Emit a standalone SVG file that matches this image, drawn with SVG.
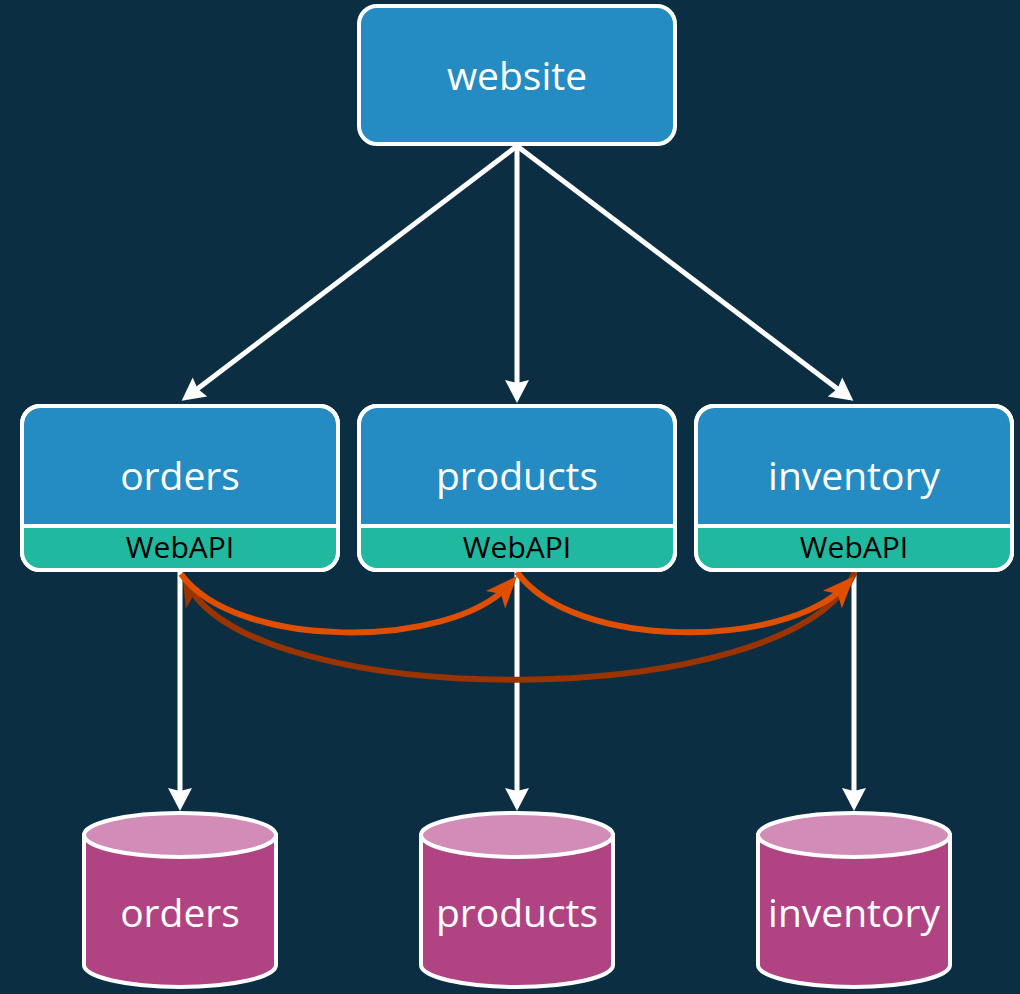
<svg xmlns="http://www.w3.org/2000/svg" width="1020" height="994" viewBox="0 0 1020 994">
<defs>
<style>
.box{fill:#258cc3;stroke:#fff;stroke-width:4}
.outline{fill:none;stroke:#fff;stroke-width:4}
.api{fill:#21b8a0}
.sep{stroke:#fff;stroke-width:4}
.t{font-family:"Segoe UI","Open Sans","Noto Sans",sans-serif;font-size:39px;fill:#fff;text-anchor:middle}
.ta{font-family:"Segoe UI","Open Sans","Noto Sans",sans-serif;font-size:30px;fill:#000;text-anchor:middle}
.wl{stroke:#fff;stroke-width:5;fill:none;marker-end:url(#wa)}
.db{fill:#b04483;stroke:#fff;stroke-width:4}
.dbtop{fill:#d18cb8;stroke:#fff;stroke-width:4}
.oc{fill:none;stroke:#e04f00;stroke-width:6;marker-end:url(#oa)}
.dc{fill:none;stroke:#993300;stroke-width:6;marker-end:url(#da)}
</style>
<marker id="wa" markerUnits="userSpaceOnUse" markerWidth="30" markerHeight="30" refX="10" refY="12" orient="auto" overflow="visible">
<path d="M0,0 L23,12 L0,24 L3,12 Z" fill="#fff"/>
</marker>
<marker id="oa" markerUnits="userSpaceOnUse" markerWidth="36" markerHeight="30" refX="20" refY="13" orient="auto" overflow="visible">
<path d="M0,0 L32,13 L0,26 L8,13 Z" fill="#e04f00"/>
</marker>
<marker id="da" markerUnits="userSpaceOnUse" markerWidth="36" markerHeight="30" refX="20" refY="13" orient="auto" overflow="visible">
<path d="M0,0 L32,13 L0,26 L8,13 Z" fill="#993300"/>
</marker>
</defs>
<rect width="1020" height="994" fill="#0b2e42"/>

<g id="connectors">
<path class="wl" d="M517,146 L192,393"/>
<path class="wl" d="M517,146 L517,390"/>
<path class="wl" d="M517,146 L843,393"/>
<path class="wl" d="M180,572 L180,798"/>
<path class="wl" d="M517,572 L517,798"/>
<path class="wl" d="M854,572 L854,798"/>
<path class="dc" d="M855,572 C790,715 255,712 188,585"/>
<path class="oc" d="M181,574 C235,650 450,650 509,585"/>
<path class="oc" d="M517,572 C572,650 785,650 846,585"/>
</g>

<g id="website">
<rect class="box" x="359" y="6" width="316" height="138" rx="18"/>
<text class="t" x="517" y="90">website</text>
</g>

<g id="orders-api">
<rect class="box" x="22" y="406" width="316" height="164" rx="18"/>
<path class="api" d="M22,526 H338 V552 A18,18 0 0 1 320,570 H40 A18,18 0 0 1 22,552 Z"/>
<line class="sep" x1="22" y1="526" x2="338" y2="526"/>
<rect class="outline" x="22" y="406" width="316" height="164" rx="18"/>
<text class="t" x="180" y="490">orders</text>
<text class="ta" x="180" y="558">WebAPI</text>
</g>

<g id="products-api">
<rect class="box" x="359" y="406" width="316" height="164" rx="18"/>
<path class="api" d="M359,526 H675 V552 A18,18 0 0 1 657,570 H377 A18,18 0 0 1 359,552 Z"/>
<line class="sep" x1="359" y1="526" x2="675" y2="526"/>
<rect class="outline" x="359" y="406" width="316" height="164" rx="18"/>
<text class="t" x="517" y="490">products</text>
<text class="ta" x="517" y="558">WebAPI</text>
</g>

<g id="inventory-api">
<rect class="box" x="696" y="406" width="316" height="164" rx="18"/>
<path class="api" d="M696,526 H1012 V552 A18,18 0 0 1 994,570 H714 A18,18 0 0 1 696,552 Z"/>
<line class="sep" x1="696" y1="526" x2="1012" y2="526"/>
<rect class="outline" x="696" y="406" width="316" height="164" rx="18"/>
<text class="t" x="854" y="490">inventory</text>
<text class="ta" x="854" y="558">WebAPI</text>
</g>

<g id="orders-db">
<path class="db" d="M84,835 V965 A96,22 0 0 0 276,965 V835 Z"/>
<ellipse class="dbtop" cx="180" cy="835" rx="96" ry="22"/>
<text class="t" x="180" y="927">orders</text>
</g>

<g id="products-db">
<path class="db" d="M421,835 V965 A96,22 0 0 0 613,965 V835 Z"/>
<ellipse class="dbtop" cx="517" cy="835" rx="96" ry="22"/>
<text class="t" x="517" y="927">products</text>
</g>

<g id="inventory-db">
<path class="db" d="M758,835 V965 A96,22 0 0 0 950,965 V835 Z"/>
<ellipse class="dbtop" cx="854" cy="835" rx="96" ry="22"/>
<text class="t" x="854" y="927">inventory</text>
</g>
</svg>
